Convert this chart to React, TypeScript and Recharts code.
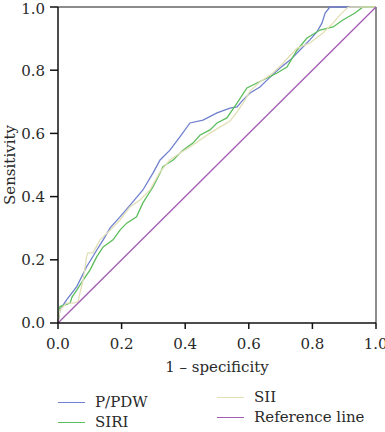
import { LineChart, Line, XAxis, YAxis, ReferenceLine } from "recharts";

// ROC points (x = 1 - specificity, y = sensitivity)
const pPdwFpr = [0, 0.006, 0.027, 0.059, 0.09, 0.122, 0.142, 0.164, 0.195, 0.236, 0.267, 0.299, 0.321, 0.352, 0.384, 0.415, 0.456, 0.5, 0.541, 0.563, 0.582, 0.604, 0.635, 0.667, 0.698, 0.73, 0.761, 0.792, 0.814, 0.83, 0.84, 0.855, 1];
const pPdwTpr = [0, 0.041, 0.073, 0.115, 0.178, 0.231, 0.263, 0.301, 0.336, 0.384, 0.421, 0.475, 0.516, 0.547, 0.59, 0.633, 0.642, 0.665, 0.68, 0.684, 0.706, 0.728, 0.747, 0.778, 0.807, 0.832, 0.864, 0.896, 0.921, 0.949, 0.981, 1, 1];

const siriFpr = [0, 0.006, 0.038, 0.044, 0.059, 0.079, 0.101, 0.122, 0.142, 0.173, 0.195, 0.216, 0.247, 0.267, 0.299, 0.321, 0.33, 0.362, 0.393, 0.425, 0.447, 0.478, 0.5, 0.531, 0.563, 0.594, 0.645, 0.689, 0.72, 0.752, 0.783, 0.824, 0.865, 0.896, 0.934, 0.959, 1];
const siriTpr = [0, 0.052, 0.063, 0.082, 0.104, 0.136, 0.168, 0.21, 0.241, 0.263, 0.294, 0.316, 0.336, 0.38, 0.431, 0.475, 0.495, 0.516, 0.547, 0.57, 0.595, 0.611, 0.633, 0.649, 0.696, 0.744, 0.769, 0.791, 0.81, 0.864, 0.902, 0.927, 0.937, 0.959, 0.981, 1, 1];

const siiFpr = [0, 0.006, 0.027, 0.047, 0.063, 0.069, 0.079, 0.09, 0.094, 0.11, 0.132, 0.164, 0.195, 0.226, 0.258, 0.289, 0.321, 0.352, 0.384, 0.415, 0.447, 0.478, 0.509, 0.541, 0.563, 0.582, 0.604, 0.635, 0.676, 0.708, 0.752, 0.792, 0.833, 0.865, 0.887, 0.909, 0.918, 1];
const siiTpr = [0, 0.041, 0.063, 0.063, 0.067, 0.095, 0.136, 0.21, 0.222, 0.222, 0.263, 0.294, 0.326, 0.367, 0.389, 0.421, 0.478, 0.516, 0.538, 0.557, 0.579, 0.601, 0.62, 0.639, 0.668, 0.696, 0.734, 0.763, 0.791, 0.823, 0.87, 0.886, 0.918, 0.949, 0.975, 0.997, 1, 1];

const refFpr = [0, 1];
const refTpr = [0, 1];

const ticks = [0, 0.2, 0.4, 0.6, 0.8, 1];

const toPoints = (xs: number[], ys: number[]) => xs.map((x, i) => ({ x, y: ys[i] }));

const series = [
  { name: "P/PDW", color: "#6f80cf", data: toPoints(pPdwFpr, pPdwTpr) },
  { name: "SIRI", color: "#5cbd5c", data: toPoints(siriFpr, siriTpr) },
  { name: "SII", color: "#e2dfb6", data: toPoints(siiFpr, siiTpr) },
  { name: "Reference line", color: "#a35cb3", data: toPoints(refFpr, refTpr) },
];

const FONT = '"DejaVu Serif", serif';
const TXT = { fill: "#2a2a2a", fontSize: 15, fontFamily: FONT };

const LegendItem = ({ name, color, left, top }: { name: string; color: string; left: number; top: number }) => (
  <div style={{ position: "absolute", left, top, height: 20, display: "flex", alignItems: "center", fontFamily: FONT, fontSize: 15, color: "#2a2a2a", lineHeight: "20px", whiteSpace: "nowrap" }}>
    <span style={{ display: "inline-block", width: 27, height: 0, borderTop: `1.5px solid ${color}`, marginRight: 10 }} />
    {name}
  </div>
);

export default function App() {
  return (
    <div style={{ position: "relative", width: 385, height: 432, background: "#fff", fontFamily: FONT, overflow: "hidden" }}>
      <style>{"html,body{margin:0;padding:0;overflow:hidden}"}</style>
      <LineChart width={385} height={432} margin={{ top: 7, right: 9, bottom: 60, left: 8 }} style={{ fontFamily: FONT }}>
        <XAxis
          type="number"
          dataKey="x"
          domain={[0, 1]}
          ticks={ticks}
          tickFormatter={(v: number) => v.toFixed(1)}
          tickSize={6}
          tickMargin={9}
          height={49}
          stroke="#111"
          strokeWidth={1.5}
          tick={TXT}
          label={{ value: "1 \u2013 specificity", position: "insideBottom", offset: 0, ...TXT }}
          allowDuplicatedCategory={false}
        />
        <YAxis
          type="number"
          dataKey="y"
          domain={[0, 1]}
          ticks={ticks}
          tickFormatter={(v: number) => v.toFixed(1)}
          tickSize={8}
          tickMargin={5}
          width={50}
          stroke="#111"
          strokeWidth={1.5}
          tick={TXT}
          label={{ value: "Sensitivity", angle: -90, position: "insideLeft", offset: 2, ...TXT, style: { textAnchor: "middle" } }}
        />
        <ReferenceLine y={1} stroke="#666" strokeWidth={1.5} />
        <ReferenceLine x={1} stroke="#666" strokeWidth={1.5} />
        {series.map((s) => (
          <Line
            key={s.name}
            data={s.data}
            dataKey="y"
            name={s.name}
            type="linear"
            stroke={s.color}
            strokeWidth={1.3}
            dot={false}
            isAnimationActive={false}
          />
        ))}
      </LineChart>
      <LegendItem name={series[0].name} color={series[0].color} left={58} top={392} />
      <LegendItem name={series[1].name} color={series[1].color} left={58} top={412} />
      <LegendItem name={series[2].name} color={series[2].color} left={217} top={387} />
      <LegendItem name={series[3].name} color={series[3].color} left={217} top={407} />
    </div>
  );
}
